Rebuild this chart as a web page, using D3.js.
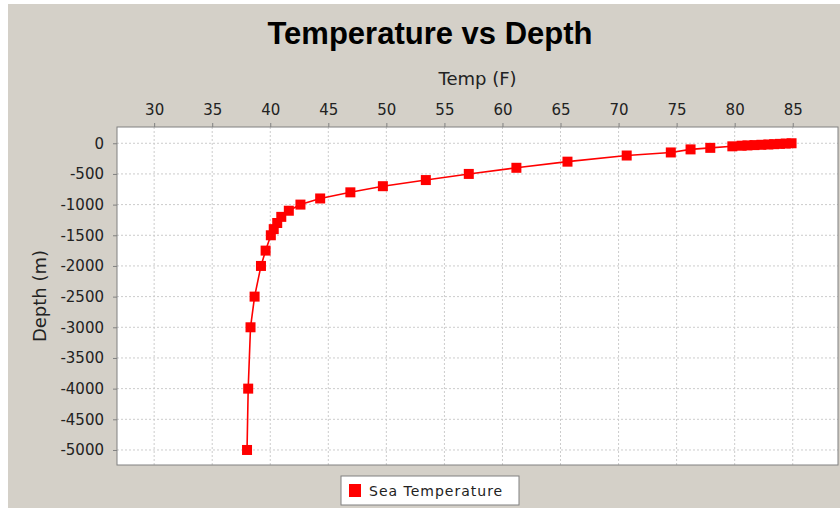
<!DOCTYPE html>
<html>
<head>
<meta charset="utf-8">
<script src="https://cdn.jsdelivr.net/npm/d3@7"></script>
<style>
  html, body { margin: 0; padding: 0; background: #ffffff; }
  .axis text { font-family: "DejaVu Sans", sans-serif; font-size: 15px; fill: #222; }
  .axis path { display: none; }
  .axis line { stroke: #808080; }
  .grid line { stroke: #cccccc; stroke-dasharray: 2,2; }
</style>
</head>
<body>
<div id="chartDiv"></div>
<script>
// depth (m) of each reading and the temperature (F) at that depth
var depths = [0, -5, -10, -15, -20, -25, -30, -35, -40, -50, -75, -100, -150, -200,
  -300, -400, -500, -600, -700, -800, -900, -1000, -1100, -1200, -1300, -1400,
  -1500, -1750, -2000, -2500, -3000, -4000, -5000];
var temps = [84.9, 84.4, 83.9, 83.4, 82.9, 82.3, 81.7, 81.1, 80.6, 79.8, 77.9, 76.2, 74.5, 70.7,
  65.6, 61.2, 57.1, 53.4, 49.7, 46.9, 44.3, 42.6, 41.6, 40.95, 40.6, 40.3,
  40.05, 39.6, 39.2, 38.65, 38.3, 38.1, 38.0];

var xTicks = [30, 35, 40, 45, 50, 55, 60, 65, 70, 75, 80, 85];
var yTicks = [0, -500, -1000, -1500, -2000, -2500, -3000, -3500, -4000, -4500, -5000];
var seriesName = "Sea Temperature";

var data = depths.map(function(d, i) { return {x: temps[i], y: d}; });

var width = 840, height = 508;
var margin = {left: 117, right: 838, top: 127, bottom: 465};

var svg = d3.select("#chartDiv").append("svg")
  .attr("width", width)
  .attr("height", height);

// chart background, offset like the original
svg.append("rect")
  .attr("x", 8).attr("y", 4)
  .attr("width", width).attr("height", height)
  .attr("fill", "#d4d0c8");

//////////
// AXES //
//////////

var x = d3.scaleLinear()
  .domain([26.8, 88.9])
  .range([margin.left, margin.right]);

var y = d3.scaleLinear()
  .domain([-5245, 265])
  .range([margin.bottom, margin.top]);

svg.append("rect")
  .attr("x", margin.left).attr("y", margin.top)
  .attr("width", margin.right - margin.left)
  .attr("height", margin.bottom - margin.top)
  .attr("fill", "#ffffff");

// grid lines
svg.append("g")
  .attr("class", "grid")
  .selectAll("line")
  .data(xTicks)
  .enter().append("line")
  .attr("x1", function(d) { return x(d); })
  .attr("x2", function(d) { return x(d); })
  .attr("y1", margin.top)
  .attr("y2", margin.bottom);

svg.append("g")
  .attr("class", "grid")
  .selectAll("line")
  .data(yTicks)
  .enter().append("line")
  .attr("x1", margin.left)
  .attr("x2", margin.right)
  .attr("y1", function(d) { return y(d); })
  .attr("y2", function(d) { return y(d); });

svg.append("g")
  .attr("class", "x axis")
  .attr("transform", "translate(0," + margin.top + ")")
  .call(d3.axisTop(x).tickValues(xTicks).tickSize(4).tickPadding(8));

svg.append("g")
  .attr("class", "y axis")
  .attr("transform", "translate(" + margin.left + ",0)")
  .call(d3.axisLeft(y).tickValues(yTicks).tickSize(4).tickPadding(9)
    .tickFormat(function(d) { return d < 0 ? "-" + Math.abs(d) : d; }));

// plot frame
svg.append("rect")
  .attr("x", margin.left).attr("y", margin.top)
  .attr("width", margin.right - margin.left)
  .attr("height", margin.bottom - margin.top)
  .attr("fill", "none")
  .attr("stroke", "#808080");

////////////
// SERIES //
////////////

var line = d3.line()
  .x(function(d) { return x(d.x); })
  .y(function(d) { return y(d.y); });

svg.append("path")
  .datum(data)
  .attr("d", line)
  .attr("fill", "none")
  .attr("stroke", "#ff0000")
  .attr("stroke-width", 1.6);

svg.append("g")
  .selectAll("rect")
  .data(data)
  .enter().append("rect")
  .attr("x", function(d) { return x(d.x) - 5; })
  .attr("y", function(d) { return y(d.y) - 5; })
  .attr("width", 10)
  .attr("height", 10)
  .attr("fill", "#ff0000");

////////////
// LABELS //
////////////

svg.append("text")
  .attr("x", 430).attr("y", 44)
  .attr("text-anchor", "middle")
  .style("font-family", "'Liberation Sans', Arial, sans-serif")
  .style("font-weight", "bold")
  .style("font-size", "31px")
  .text("Temperature vs Depth");

svg.append("text")
  .attr("x", (margin.left + margin.right) / 2).attr("y", 85)
  .attr("text-anchor", "middle")
  .style("font-family", "'DejaVu Sans', sans-serif")
  .style("font-size", "18px")
  .style("fill", "#222")
  .text("Temp (F)");

svg.append("text")
  .attr("transform", "translate(46," + (margin.top + margin.bottom) / 2 + ") rotate(-90)")
  .attr("text-anchor", "middle")
  .style("font-family", "'DejaVu Sans', sans-serif")
  .style("font-size", "18px")
  .style("fill", "#222")
  .text("Depth (m)");

// legend
var legend = svg.append("g").attr("transform", "translate(341,476)");
legend.append("rect")
  .attr("width", 178).attr("height", 29)
  .attr("fill", "#ffffff")
  .attr("stroke", "#808080");
legend.append("rect")
  .attr("x", 8).attr("y", 8)
  .attr("width", 12).attr("height", 13)
  .attr("fill", "#ff0000");
legend.append("text")
  .attr("x", 28).attr("y", 20)
  .style("font-family", "'DejaVu Sans', sans-serif")
  .style("font-size", "14px")
  .style("letter-spacing", "1px")
  .style("fill", "#222")
  .text(seriesName);
</script>
</body>
</html>
